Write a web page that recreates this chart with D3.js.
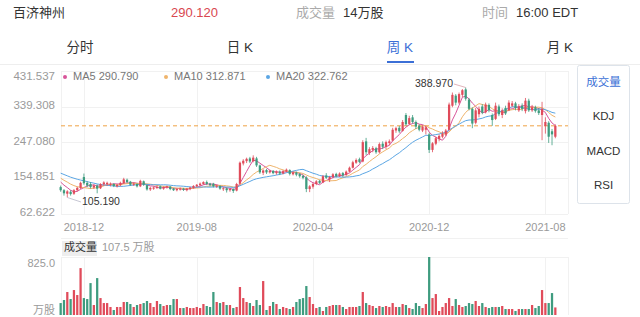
<!DOCTYPE html>
<html>
<head>
<meta charset="utf-8">
<script src="https://cdn.jsdelivr.net/npm/d3@7"></script>
<style>
  body { margin: 0; background: #fff; }
  svg { display: block; font-family: "Liberation Sans", "Noto Sans CJK SC", sans-serif; }
</style>
</head>
<body>
<svg id="chart" width="640" height="317"></svg>
<script>
// weekly candles, first week 2018-10-19
const firstWeek = new Date(2018, 9, 19);
const open = [
  132, 124, 115, 120, 115, 124, 130, 158, 143, 140,
  131, 136, 129, 139, 140, 138, 140, 134, 137, 142,
  151, 146, 138, 140, 134, 147, 137, 126, 128, 130,
  134, 128, 131, 133, 128, 124, 126, 128, 124, 127,
  130, 134, 137, 140, 145, 141, 141, 133, 135, 127,
  129, 124, 127, 123, 141, 193, 199, 206, 199, 206,
  188, 169, 176, 170, 174, 168, 172, 167, 172, 176,
  165, 170, 166, 161, 157, 127, 133, 140, 148, 144,
  162, 152, 158, 166, 160, 168, 163, 172, 182, 195,
  204, 198, 250, 220, 228, 232, 222, 244, 236, 246,
  252, 278, 285, 277, 318, 295, 312, 300, 290, 278,
  280, 268, 228, 244, 256, 262, 268, 280, 342, 368,
  350, 370, 384, 358, 334, 298, 320, 340, 325, 344,
  318, 308, 340, 318, 336, 330, 342, 348, 330, 342,
  328, 355, 330, 338, 330, 318, 290, 298, 276, 262
];
const close = [
  124, 116, 121, 114, 124, 130, 143, 142, 136, 132,
  136, 128, 140, 144, 143, 141, 135, 138, 143, 152,
  145, 138, 141, 134, 148, 138, 126, 130, 131, 133,
  128, 132, 134, 127, 124, 127, 128, 125, 128, 131,
  135, 138, 141, 145, 140, 137, 134, 136, 128, 129,
  124, 127, 122, 140, 195, 200, 205, 198, 208, 188,
  170, 175, 170, 174, 168, 172, 167, 173, 177, 166,
  170, 164, 160, 156, 127, 134, 140, 147, 143, 160,
  156, 158, 165, 160, 167, 162, 172, 182, 196, 202,
  197, 248, 222, 230, 233, 222, 243, 236, 248, 250,
  280, 284, 276, 300, 294, 310, 300, 288, 280, 288,
  286, 228, 245, 258, 264, 270, 278, 345, 370, 350,
  372, 382, 360, 334, 296, 330, 334, 324, 345, 330,
  305, 342, 320, 330, 322, 350, 348, 336, 340, 334,
  355, 330, 338, 328, 323, 334, 300, 262, 268, 290.12
];
const low = [
  120, 110, 105.19, 110, 112, 121, 127, 138, 132, 128,
  127, 116, 127, 136, 135, 134, 132, 131, 134, 140,
  142, 135, 135, 131, 132, 135, 123, 122, 125, 127,
  126, 125, 128, 124, 122, 121, 123, 122, 121, 124,
  128, 132, 134, 138, 137, 134, 131, 130, 125, 122,
  118, 120, 117, 121, 139, 188, 194, 194, 196, 184,
  166, 163, 166, 167, 165, 164, 163, 165, 170, 162,
  162, 160, 156, 152, 119, 119, 128, 137, 140, 142,
  153, 145, 155, 157, 158, 158, 161, 170, 180, 192,
  194, 196, 215, 215, 222, 218, 219, 230, 230, 240,
  250, 272, 272, 275, 290, 292, 296, 282, 276, 274,
  268, 220, 222, 240, 250, 258, 264, 278, 338, 343,
  346, 364, 355, 330, 284, 294, 312, 320, 322, 325,
  290, 305, 315, 310, 318, 328, 338, 330, 326, 328,
  322, 326, 326, 324, 318, 253, 270, 246, 240, 258
];
const high = [
  136, 127, 124, 124, 127, 133, 146, 167, 147, 145,
  139, 139, 142, 147, 146, 144, 142, 140, 146, 156,
  154, 148, 144, 142, 151, 149, 139, 133, 134, 136,
  136, 134, 136, 135, 130, 129, 131, 130, 130, 133,
  137, 140, 144, 147, 149, 143, 143, 138, 137, 132,
  131, 129, 129, 143, 198, 204, 208, 210, 214, 210,
  190, 178, 179, 177, 176, 175, 175, 176, 180, 178,
  173, 172, 168, 164, 160, 137, 143, 150, 151, 163,
  168, 161, 168, 169, 170, 171, 175, 185, 200, 206,
  208, 253, 259, 235, 238, 236, 247, 250, 252, 255,
  285, 288, 290, 305, 323, 316, 318, 304, 294, 292,
  290, 272, 248, 262, 268, 276, 282, 350, 376, 372,
  376, 385, 388.97, 362, 338, 336, 340, 346, 350, 348,
  322, 350, 345, 335, 342, 356, 354, 352, 346, 348,
  362, 360, 344, 342, 336, 352, 312, 302, 282, 294
];
// volume, 万股
const volume = [
  170, 213, 327, 227, 355, 284, 667, 241, 227, 454,
  142, 525, 241, 170, 170, 114, 71, 114, 114, 185,
  185, 156, 114, 142, 156, 170, 199, 170, 114, 199,
  156, 128, 142, 142, 227, 227, 99, 99, 114, 99,
  99, 114, 99, 156, 128, 114, 327, 185, 170, 185,
  142, 142, 99, 114, 398, 241, 185, 170, 128, 213,
  142, 483, 71, 128, 185, 156, 85, 114, 99, 85,
  114, 185, 227, 241, 412, 256, 156, 99, 114, 57,
  114, 128, 142, 142, 142, 114, 85, 114, 114, 114,
  128, 327, 170, 142, 128, 99, 128, 114, 128, 114,
  170, 114, 114, 156, 142, 99, 85, 170, 128, 99,
  156, 825, 241, 298, 57, 114, 170, 241, 128, 227,
  142, 114, 128, 170, 156, 199, 128, 170, 114, 99,
  114, 114, 114, 128, 85, 85, 85, 57, 85, 85,
  85, 85, 142, 99, 128, 355, 170, 170, 312, 107.5
];
// closes of the 19 weeks before the first candle, used for the averages
const priorClose = [185, 190, 184, 178, 182, 186, 180, 175, 178, 172,
  170, 168, 166, 162, 159, 156, 152, 148, 145];

const yTicks = [62.622, 154.851, 247.080, 339.308, 431.537];
const xTickLabels = ['2018-12', '2019-08', '2020-04', '2020-12', '2021-08'];
const maPeriods = [5, 10, 20];
const maLegend = ['290.790', '312.871', '322.762'];
const maColors = ['#d8559a', '#efb46c', '#5ba6e4'];
const tabs = ['分时', '日 K', '周 K', '月 K'];
const sideItems = ['成交量', 'KDJ', 'MACD', 'RSI'];
const lastPrice = 290.12;
const volMax = 825;

const RED = '#e04b5a';
const GREEN = '#3e9c7f';
const GRID = '#f1f1f1';
const AXIS_TXT = '#9a9a9a';

const svg = d3.select('#chart');
const n = close.length;
const weeks = d3.range(n).map(i => d3.timeDay.offset(firstWeek, 7 * i));

const x = d3.scaleBand().domain(d3.range(n)).range([59, 557]);
const bw = x.bandwidth();
const cx = i => x(i) + bw / 2;
const y = d3.scaleLinear().domain([yTicks[0], yTicks[4]]).range([214, 71]);
const yv = d3.scaleLinear().domain([0, volMax]).range([315, 257]);

// header
const header = svg.append('g').attr('font-size', 13).attr('dominant-baseline', 'middle');
header.append('text').attr('x', 13).attr('y', 14).attr('fill', '#333').text('百济神州');
header.append('text').attr('x', 171).attr('y', 14).attr('fill', '#d9474f').text(lastPrice.toFixed(3));
header.append('text').attr('x', 296).attr('y', 14).attr('fill', '#aaa').text('成交量');
header.append('text').attr('x', 343).attr('y', 14).attr('fill', '#333').text('14万股');
header.append('text').attr('x', 482).attr('y', 14).attr('fill', '#aaa').text('时间');
header.append('text').attr('x', 516).attr('y', 14).attr('fill', '#333').text('16:00 EDT');

// tabs
svg.append('g').selectAll('text').data(tabs).join('text')
  .attr('x', (d, i) => 80 + i * 160).attr('y', 48)
  .attr('text-anchor', 'middle').attr('dominant-baseline', 'middle')
  .attr('font-size', 13.5)
  .attr('xml:space', 'preserve')
  .attr('fill', (d, i) => i === 2 ? '#3b6fd6' : '#333')
  .text(d => d);
svg.append('rect').attr('x', 387).attr('y', 61).attr('width', 27).attr('height', 2).attr('fill', '#3b6fd6');
svg.append('line').attr('x1', 0).attr('x2', 640).attr('y1', 64.5).attr('y2', 64.5).attr('stroke', '#eee');

// tick positions: first week of each labelled month
const tickIdx = xTickLabels.map(l => weeks.findIndex(d => d3.timeFormat('%Y-%m')(d) === l));

// grid
const grid = svg.append('g').attr('stroke', GRID).attr('stroke-width', 1);
grid.selectAll('.h').data(yTicks).join('line')
  .attr('x1', 61).attr('x2', 568)
  .attr('y1', d => Math.round(y(d)) + 0.5).attr('y2', d => Math.round(y(d)) + 0.5);
grid.selectAll('.v').data(tickIdx.map(cx).concat([61, 568])).join('line')
  .attr('x1', d => Math.round(d) + 0.5).attr('x2', d => Math.round(d) + 0.5)
  .attr('y1', 71).attr('y2', 214);
grid.append('line').attr('x1', 61).attr('x2', 568).attr('y1', 238.5).attr('y2', 238.5);
grid.append('line').attr('x1', 61).attr('x2', 568).attr('y1', 257.5).attr('y2', 257.5);
grid.selectAll('.vv').data(tickIdx.map(cx).concat([61, 568])).join('line')
  .attr('x1', d => Math.round(d) + 0.5).attr('x2', d => Math.round(d) + 0.5)
  .attr('y1', 257).attr('y2', 315);

// y labels
svg.append('g').selectAll('text').data(yTicks).join('text')
  .attr('x', 55)
  .attr('y', (d, i) => i === 4 ? y(d) + 6 : y(d) - 1)
  .attr('text-anchor', 'end').attr('dominant-baseline', 'middle')
  .attr('font-size', 11.5).attr('fill', AXIS_TXT)
  .text(d => d.toFixed(3));

// x labels
svg.append('g').selectAll('text').data(tickIdx).join('text')
  .attr('x', d => cx(d)).attr('y', 228)
  .attr('text-anchor', 'middle').attr('dominant-baseline', 'middle')
  .attr('font-size', 11).attr('fill', AXIS_TXT)
  .text((d, i) => xTickLabels[i]);

// last price line
svg.append('line')
  .attr('x1', 61).attr('x2', 568)
  .attr('y1', y(lastPrice)).attr('y2', y(lastPrice))
  .attr('stroke', '#efa245').attr('stroke-width', 1).attr('stroke-dasharray', '4,3');

// moving averages
const allClose = priorClose.concat(close);
const off = priorClose.length;
maPeriods.forEach((p, k) => {
  const vals = d3.range(n).map(i => d3.mean(allClose.slice(i + off - p + 1, i + off + 1)));
  svg.append('path')
    .datum(vals)
    .attr('fill', 'none')
    .attr('stroke', maColors[k])
    .attr('stroke-width', 1)
    .attr('d', d3.line().x((d, i) => cx(i)).y(d => y(d)));
});

// candles
const bodyW = Math.max(1.6, bw * 0.68);
const candle = svg.append('g');
candle.selectAll('line').data(d3.range(n)).join('line')
  .attr('x1', i => cx(i)).attr('x2', i => cx(i))
  .attr('y1', i => y(high[i])).attr('y2', i => y(low[i]))
  .attr('stroke', i => close[i] >= open[i] ? RED : GREEN)
  .attr('stroke-width', 0.8);
candle.selectAll('rect').data(d3.range(n)).join('rect')
  .attr('x', i => cx(i) - bodyW / 2)
  .attr('width', bodyW)
  .attr('y', i => y(Math.max(open[i], close[i])))
  .attr('height', i => Math.max(1, Math.abs(y(open[i]) - y(close[i]))))
  .attr('fill', i => close[i] >= open[i] ? RED : GREEN);

// high / low markers
const hiI = d3.maxIndex(high);
const loI = d3.minIndex(low);
svg.append('line').attr('x1', 454).attr('y1', 84).attr('x2', cx(hiI)).attr('y2', y(high[hiI]))
  .attr('stroke', '#d8a0a8').attr('stroke-width', 0.8);
svg.append('text').attr('x', 453).attr('y', 84).attr('text-anchor', 'end').attr('dominant-baseline', 'middle')
  .attr('font-size', 10.5).attr('fill', '#333').text(high[hiI].toFixed(3));
svg.append('line').attr('x1', cx(loI)).attr('y1', y(low[loI])).attr('x2', 81).attr('y2', 202)
  .attr('stroke', '#b8b8c8').attr('stroke-width', 0.8);
svg.append('text').attr('x', 82).attr('y', 202).attr('dominant-baseline', 'middle')
  .attr('font-size', 10.5).attr('fill', '#333').text(low[loI].toFixed(3));

// legend
const legend = svg.append('g');
const legendX = [65, 166, 268];
maPeriods.forEach((p, k) => {
  legend.append('circle').attr('cx', legendX[k]).attr('cy', 77).attr('r', 2).attr('fill', maColors[k]);
  legend.append('text').attr('x', legendX[k] + 8).attr('y', 77).attr('dominant-baseline', 'middle')
    .attr('font-size', 11).attr('fill', '#777')
    .attr('xml:space', 'preserve')
    .text('MA' + p + ' ' + maLegend[k]);
});

// side panel
svg.append('rect').attr('x', 577.5).attr('y', 65.5).attr('width', 52).attr('height', 138)
  .attr('rx', 2).attr('fill', '#fff').attr('stroke', '#dde3ea');
svg.append('g').selectAll('text').data(sideItems).join('text')
  .attr('x', 603.5).attr('y', (d, i) => 83 + i * 34.3)
  .attr('text-anchor', 'middle').attr('dominant-baseline', 'middle')
  .attr('font-size', 11.5)
  .attr('fill', (d, i) => i === 0 ? '#3b6fd6' : '#333')
  .text(d => d);

// volume panel
svg.append('rect').attr('x', 62).attr('y', 241).attr('width', 35).attr('height', 15).attr('fill', '#eeeeee');
svg.append('text').attr('x', 64).attr('y', 248.5).attr('dominant-baseline', 'middle')
  .attr('font-size', 11).attr('fill', '#333').text('成交量');
svg.append('text').attr('x', 102).attr('y', 248.5).attr('dominant-baseline', 'middle')
  .attr('font-size', 11).attr('fill', AXIS_TXT).text(volume[n - 1].toFixed(1) + ' 万股');
svg.append('text').attr('x', 55).attr('y', 264).attr('text-anchor', 'end').attr('dominant-baseline', 'middle')
  .attr('font-size', 11).attr('fill', AXIS_TXT).text(volMax.toFixed(1));
svg.append('text').attr('x', 55).attr('y', 311).attr('text-anchor', 'end').attr('dominant-baseline', 'middle')
  .attr('font-size', 11).attr('fill', AXIS_TXT).text('万股');

svg.append('g').selectAll('rect').data(d3.range(n)).join('rect')
  .attr('x', i => cx(i) - bodyW / 2)
  .attr('width', bodyW)
  .attr('y', i => yv(volume[i]))
  .attr('height', i => yv(0) - yv(volume[i]))
  .attr('fill', i => close[i] >= open[i] ? RED : GREEN);
</script>
</body>
</html>
